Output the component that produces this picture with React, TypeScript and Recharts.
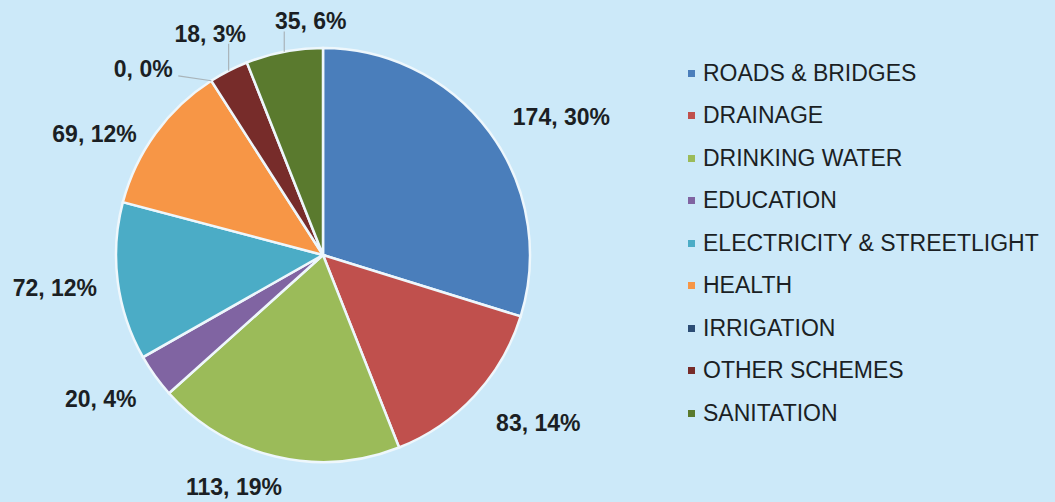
import React from 'react';
import { PieChart, Pie, Cell, Legend } from 'recharts';

const categories = [
  'ROADS & BRIDGES',
  'DRAINAGE',
  'DRINKING WATER',
  'EDUCATION',
  'ELECTRICITY & STREETLIGHT',
  'HEALTH',
  'IRRIGATION',
  'OTHER SCHEMES',
  'SANITATION',
];
const values = [174, 83, 113, 20, 72, 69, 0, 18, 35];
const percentLabels = ['30%', '14%', '19%', '4%', '12%', '12%', '0%', '3%', '6%'];
const colors = ['#4a7ebb', '#c0504d', '#9bbb59', '#8064a2', '#4bacc6', '#f79646', '#2c4d75', '#772c2a', '#5a7a2e'];

// label placement (clockwise degrees from 12 o'clock, distance as multiple of radius)
const labelAngles = [60, 128, 201, 237, 263, 298, 316, 333, 357];
const labelDist = [1.33, 1.32, 1.2, 1.28, 1.305, 1.25, 1.25, 1.2, 1.13];
// leader line style: 'none' | 'side' | 'up'
const leaderKind = ['none', 'none', 'none', 'none', 'none', 'none', 'side', 'up', 'up'];

const data = categories.map((name, i) => ({ name, value: values[i] }));

const RAD = Math.PI / 180;
const FONT = '"Liberation Sans", Arial, sans-serif';

const renderLabel = (props: any) => {
  const { cx, cy, midAngle, outerRadius, index, value } = props;
  const a = labelAngles[index] * RAD;
  const d = labelDist[index] * outerRadius;
  const x = cx + d * Math.sin(a);
  const y = cy - d * Math.cos(a);
  const ex = cx + outerRadius * Math.cos(-midAngle * RAD);
  const ey = cy + outerRadius * Math.sin(-midAngle * RAD);
  let line: React.ReactNode = null;
  if (leaderKind[index] === 'side') {
    line = <polyline points={`${ex},${ey} ${x + 35},${y + 7}`} stroke="#a9b4ba" strokeWidth={1.2} fill="none" />;
  } else if (leaderKind[index] === 'up') {
    line = <polyline points={`${ex},${ey} ${ex},${y + 10}`} stroke="#a9b4ba" strokeWidth={1.2} fill="none" />;
  }
  return (
    <g key={`lbl-${index}`}>
      {line}
      <text
        x={x}
        y={y}
        textAnchor="middle"
        dominantBaseline="central"
        fontFamily={FONT}
        fontWeight="bold"
        fontSize={23}
        fill="#1b1f24"
      >
        {`${value}, ${percentLabels[index]}`}
      </text>
    </g>
  );
};

const renderLegend = () => (
  <div style={{ fontFamily: FONT, fontSize: 23, color: '#1b1f24' }}>
    {categories.map((c, i) => (
      <div key={c} style={{ height: 42.5, display: 'flex', alignItems: 'center', whiteSpace: 'nowrap' }}>
        <span style={{ display: 'inline-block', width: 7, height: 7, background: colors[i], marginRight: 8 }} />
        <span>{c}</span>
      </div>
    ))}
  </div>
);

export default function App() {
  return (
    <div style={{ position: 'absolute', left: 0, top: 0, width: 1055, height: 502, background: '#cce9f9' }}>
      <PieChart width={1055} height={502} margin={{ top: 0, right: 0, bottom: 0, left: 0 }}>
        <Pie
          data={data}
          dataKey="value"
          nameKey="name"
          cx={323}
          cy={255}
          outerRadius={207}
          startAngle={90}
          endAngle={-270}
          stroke="#eef7fc"
          strokeWidth={2.5}
          label={renderLabel}
          labelLine={false}
          isAnimationActive={false}
        >
          {data.map((d, i) => (
            <Cell key={d.name} fill={colors[i]} />
          ))}
        </Pie>
        <Legend
          content={renderLegend}
          wrapperStyle={{ position: 'absolute', left: 688, top: 52, width: 365 }}
        />
      </PieChart>
    </div>
  );
}
